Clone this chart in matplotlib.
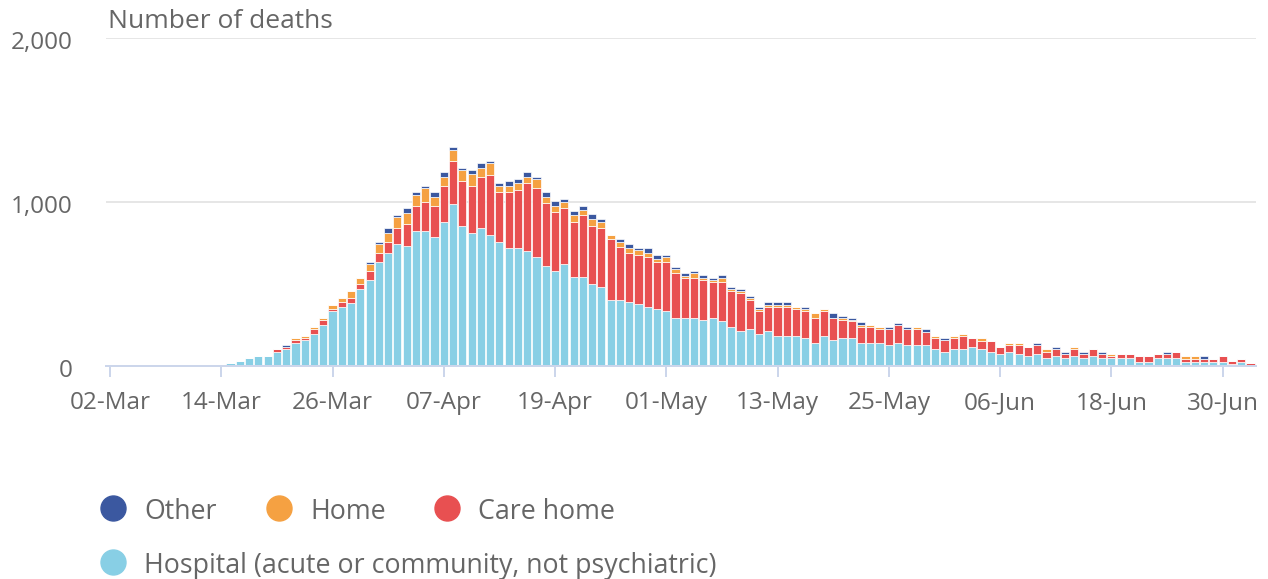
import numpy as np
import pandas as pd
import matplotlib
matplotlib.use("Agg")
import matplotlib.pyplot as plt
import matplotlib.transforms as mtransforms
from matplotlib.lines import Line2D

plt.rcParams['font.family'] = ['Open Sans', 'DejaVu Sans']

# daily deaths by place, 02-Mar to 03-Jul (first 13 days are zero)
dates = pd.date_range("2020-03-02", "2020-07-03", freq="D")
lead = [0] * 13

hospital = lead + [
    18, 30, 49, 61, 61, 85, 104, 142, 157, 197, 250, 333, 360, 386, 469, 524, 634,
    690, 744, 732, 825, 825, 787, 880, 990, 854, 813, 840, 799, 758, 718, 718,
    703, 663, 607, 580, 622, 541, 541, 498, 484, 402, 402, 388, 376, 362, 348,
    333, 295, 295, 295, 278, 294, 276, 238, 213, 224, 195, 213, 183, 183, 183,
    169, 142, 183, 157, 169, 169, 142, 142, 142, 128, 142, 128, 128, 128, 102, 87,
    102, 102, 114, 102, 87, 73, 87, 73, 61, 73, 47, 61, 47, 61, 47,
    61, 47, 47, 47, 47, 26, 26, 47, 47, 47, 26, 26, 26, 26, 26,
    14, 26, 6]
care_home = lead + [
    0, 0, 0, 0, 0, 17, 12, 15, 14, 29, 30, 14, 28, 29, 29, 55, 55,
    67, 96, 134, 151, 177, 189, 218, 258, 274, 286, 314, 368, 301, 341, 355,
    411, 424, 385, 357, 343, 339, 380, 356, 356, 370, 325, 303, 301, 301, 288,
    303, 270, 243, 243, 248, 216, 234, 217, 230, 178, 140, 149, 179, 179, 162,
    166, 149, 152, 134, 111, 107, 94, 94, 82, 98, 108, 96, 96, 81, 67, 72,
    67, 81, 55, 52, 67, 41, 41, 55, 53, 55, 40, 41, 27, 40, 28,
    41, 28, 14, 28, 28, 35, 35, 26, 26, 38, 19, 19, 19, 19, 33,
    14, 19, 10]
home = lead + [
    0, 0, 0, 0, 0, 2, 0, 16, 12, 12, 13, 27, 27, 40, 40, 41, 55,
    55, 67, 69, 67, 85, 56, 56, 69, 67, 70, 55, 69, 40, 40, 41,
    40, 53, 40, 40, 37, 41, 30, 40, 40, 27, 31, 27, 30, 28, 14,
    27, 26, 13, 27, 13, 14, 28, 14, 14, 14, 13, 12, 12, 12, 15,
    13, 30, 13, 0, 15, 5, 16, 14, 12, 0, 0, 0, 12, 0, 14, 0,
    14, 12, 0, 15, 0, 0, 12, 12, 0, 0, 15, 0, 0, 13, 0,
    0, 0, 14, 0, 0, 0, 0, 0, 0, 0, 14, 14, 0, 0, 0,
    0, 0, 0]
other = lead + [
    0, 0, 0, 0, 0, 0, 12, 0, 0, 0, 0, 0, 0, 0, 0, 12, 12,
    27, 14, 27, 16, 12, 27, 27, 16, 14, 26, 27, 14, 15, 27, 26,
    27, 14, 26, 27, 14, 26, 26, 30, 14, 0, 14, 26, 14, 27, 27,
    14, 14, 14, 16, 13, 15, 15, 15, 14, 13, 12, 14, 14, 14, 0,
    12, 0, 0, 30, 10, 12, 14, 0, 0, 10, 14, 12, 0, 15, 0, 10,
    0, 0, 0, 0, 0, 0, 0, 0, 0, 14, 0, 12, 13, 0, 12,
    0, 12, 0, 0, 0, 0, 0, 0, 12, 0, 0, 0, 14, 0, 0,
    0, 0, 0]

series_names = ["Other", "Home", "Care home", "Hospital (acute or community, not psychiatric)"]
colors = {"hospital": "#88cfe5", "care": "#e85051", "home": "#f5a142", "other": "#3b58a0"}

tick_step = 12
y_ticks = [0, 1000, 2000]

txt = "#666666"
W, H = 1268, 579
PT = 0.72  # points per pixel at dpi 100
fig = plt.figure(figsize=(W / 100, H / 100), dpi=100)
ax = fig.add_axes([106 / W, (H - 366) / H, (1256 - 106) / W, (366 - 38) / H])

x = np.arange(len(dates))
h = np.array(hospital)
c = np.array(care_home)
hm = np.array(home)
o = np.array(other)

bw = 0.88
kw = dict(width=bw, edgecolor="white", linewidth=0.5, zorder=3)
ax.bar(x, h, color=colors["hospital"], **kw)
ax.bar(x, c, bottom=h, color=colors["care"], **kw)
ax.bar(x, hm, bottom=h + c, color=colors["home"], **kw)
ax.bar(x, o, bottom=h + c + hm, color=colors["other"], **kw)

ax.set_xlim(-0.43, 123.6)
ax.set_ylim(0, 2000)

for s in ["top", "right", "left"]:
    ax.spines[s].set_visible(False)
ax.spines["bottom"].set_color("#ccd6eb")
ax.spines["bottom"].set_linewidth(2 * PT)
ax.spines["bottom"].set_zorder(4)

ax.set_yticks(y_ticks)
ax.set_yticklabels([f"{v:,}" for v in y_ticks])
ax.yaxis.grid(True, color="#e6e6e6", linewidth=2 * PT, zorder=0)
ax.tick_params(axis="y", length=0, pad=33 * PT, labelsize=17.5, labelcolor=txt)
shift = mtransforms.ScaledTranslation(0, -5 / 100, fig.dpi_scale_trans)
for lab in ax.get_yticklabels():
    lab.set_verticalalignment("center")
    lab.set_transform(lab.get_transform() + shift)

xt = x[::tick_step]
ax.set_xticks(xt)
ax.set_xticklabels([d.strftime("%d-%b") for d in dates[::tick_step]])
ax.tick_params(axis="x", length=11 * PT, width=2 * PT, color="#ccd6eb",
               pad=14 * PT, labelsize=17.5, labelcolor=txt)

fig.text(108 / W, 1 - 22 / H, "Number of deaths", fontsize=19, color=txt,
         ha="left", va="center")

# legend drawn by hand to match the two-row layout
legend_items = [
    (113, 508, colors["other"], series_names[0]),
    (279, 508, colors["home"], series_names[1]),
    (447, 508, colors["care"], series_names[2]),
    (113, 562, colors["hospital"], series_names[3]),
]
for px, py, col, lab in legend_items:
    fig.add_artist(Line2D([px / W], [1 - py / H], marker="o", markersize=25 * PT,
                          color=col, linestyle="none",
                          transform=fig.transFigure))
    fig.text((px + 31) / W, 1 - (py + 4) / H, lab, fontsize=19.3, color=txt,
             ha="left", va="center")

fig.savefig("out.png", dpi=100)
